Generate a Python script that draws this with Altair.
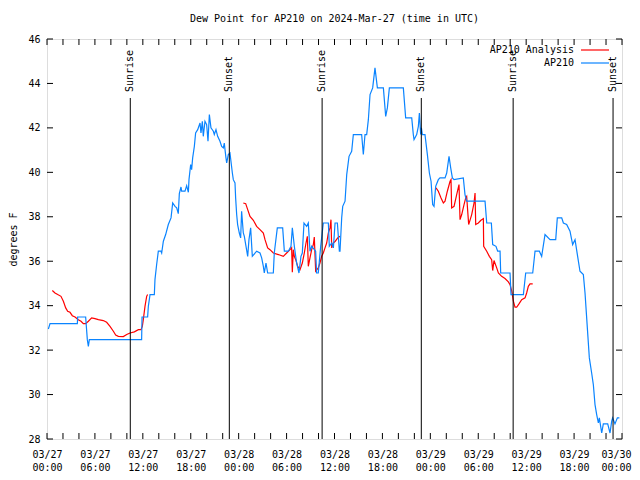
import altair as alt
import pandas as pd

FONT = "DejaVu Sans Mono"

# hours since 2024-03-27 00:00 UTC, dew point (F)
blue_h = [0.17, 0.38, 3.80, 3.84, 4.84, 5.05, 5.18, 5.30, 11.85, 11.90, 12.60, 12.69, 12.90, 13.44, 13.52, 13.73,
          13.94, 14.27, 14.36, 14.57, 14.86, 15.19, 15.53, 15.74, 16.03, 16.24, 16.44, 16.57, 16.78, 16.86, 17.28,
          17.49, 17.70, 17.78, 17.99, 18.11, 18.24, 18.45, 18.61, 18.87, 19.16, 19.28, 19.45, 19.57, 19.78, 19.99,
          20.16, 20.33, 20.53, 20.83, 20.95, 21.16, 21.37, 21.66, 21.87, 22.08, 22.20, 22.29, 22.41, 22.50, 22.70,
          22.91, 23.21, 23.33, 23.54, 23.62, 23.75, 23.87, 24.08, 24.25, 24.37, 24.58, 24.71, 24.92, 25.13, 25.29,
          25.50, 25.71, 26.25, 26.67, 26.88, 27.09, 27.21, 27.42, 27.63, 28.34, 28.46, 28.84, 29.51, 29.72, 30.22,
          30.55, 30.72, 30.97, 31.26, 31.55, 31.80, 31.97, 32.18, 32.51, 32.72, 32.93, 33.14, 33.64, 33.76, 33.97,
          34.27, 34.60, 35.23, 35.35, 35.65, 35.86, 36.07, 36.36, 36.61, 36.69, 36.90, 37.03, 37.32, 37.53, 37.82,
          38.15, 38.36, 39.40, 39.61, 39.82, 40.03, 40.24, 40.45, 40.78, 41.07, 41.37, 42.12, 42.41, 42.62, 42.87,
          44.62, 44.91, 45.67, 45.87, 45.96, 46.29, 46.50, 46.63, 46.79, 46.88, 47.00, 47.33, 47.63, 47.88, 48.09,
          48.29, 48.46, 48.67, 49.00, 49.21, 49.84, 50.05, 50.34, 50.55, 50.76, 50.97, 52.13, 52.34, 52.55, 54.85,
          55.06, 55.64, 55.81, 56.22, 56.43, 56.73, 56.81, 57.98, 58.10, 59.65, 59.94, 60.82, 61.11, 61.65, 61.94,
          62.36, 62.99, 63.70, 63.90, 64.45, 64.66, 65.07, 65.49, 65.82, 66.12, 66.41, 66.74, 67.16, 67.37, 67.66,
          67.91, 68.20, 68.41, 68.62, 68.83, 69.04, 69.16, 69.46, 69.66, 70.21, 70.50, 70.71, 70.83, 71.12, 71.42,
          71.67]
blue_v = [32.95, 33.19, 33.19, 33.49, 33.49, 32.47, 32.17, 32.47, 32.47, 33.49, 33.49, 33.97, 34.5, 34.5, 35.17, 35.85,
          36.45, 36.45, 36.37, 36.9, 37.2, 37.65, 37.95, 38.62, 38.47, 38.4, 38.14, 39.04, 39.34, 39.15, 39.15,
          39.4, 39.1, 39.67, 40.35, 40.12, 40.65, 41.17, 41.77, 41.92, 42.22, 41.77, 42.3, 41.62, 42.3, 42.15,
          41.4, 42.6, 42.0, 41.85, 41.7, 41.92, 41.62, 41.4, 41.17, 41.1, 41.32, 41.02, 40.65, 40.42, 40.8,
          40.87, 39.97, 39.67, 39.52, 38.85, 38.1, 37.65, 37.27, 37.05, 38.25, 37.27, 37.12, 36.67, 36.22, 36.97,
          37.5, 36.22, 36.45, 36.37, 36.15, 35.77, 35.47, 35.92, 35.47, 35.47, 36.37, 37.5, 37.5, 36.45, 36.45,
          36.67, 37.5, 36.67, 35.92, 35.47, 36.22, 36.37, 37.72, 37.57, 37.72, 36.45, 36.67, 36.45, 35.47, 35.47,
          36.67, 37.72, 37.72, 36.67, 36.82, 36.6, 37.72, 37.72, 36.45, 36.45, 37.95, 38.47, 38.7, 39.9, 40.72,
          40.95, 41.7, 41.7, 40.8, 41.7, 41.7, 42.37, 43.5, 43.8, 44.7, 43.8, 43.8, 42.52, 42.9, 43.8,
          43.8, 42.45, 42.45, 41.7, 41.47, 41.7, 42.07, 42.67, 41.7, 42.0, 41.7, 41.7, 40.8, 39.97, 39.6,
          38.55, 38.47, 39.37, 39.67, 39.75, 39.75, 39.97, 40.72, 40.2, 39.75, 39.67, 39.75, 39.0, 38.7, 38.7,
          37.72, 37.72, 36.75, 36.67, 36.45, 36.45, 35.47, 35.47, 34.5, 34.5, 35.47, 35.47, 36.45, 36.45, 36.22,
          37.2, 36.97, 36.97, 37.95, 37.95, 37.72, 37.65, 37.35, 36.75, 36.97, 36.3, 35.55, 35.4, 34.57, 33.0,
          31.65, 30.97, 30.45, 29.55, 29.1, 28.72, 28.95, 28.27, 28.68, 28.68, 28.27, 28.8, 28.95, 28.68, 28.95,
          28.95]

red_h = [0.67, 1.0, 1.34, 1.75, 2.05, 2.34, 2.59, 2.88, 3.17, 3.51, 3.92, 4.26, 4.55, 4.84, 5.18, 5.59, 6.01, 6.43,
         7.05, 7.47, 7.89, 8.31, 8.60, 8.93, 9.56, 9.98, 10.39, 10.94, 11.44, 11.77, 11.94, 12.06, 12.27, 12.48, 12.60,
         24.58, 24.88, 25.13, 25.42, 25.84, 26.25, 26.67, 27.09, 27.30, 27.63, 27.92, 28.34, 28.97, 29.59, 30.01,
         30.43, 30.63, 30.72, 30.84, 30.97, 31.14, 31.39, 31.68, 31.97, 32.22, 32.43, 32.60, 32.72, 32.93, 33.14,
         33.35, 33.47, 33.64, 33.97, 34.18, 34.39, 34.60, 34.81, 35.02, 35.23, 35.44, 35.56, 35.65, 35.85, 36.10,
         36.40, 36.69,
         48.71, 49.00, 49.34, 49.63, 49.84, 50.13, 50.47, 50.59, 50.67, 50.97, 51.30, 51.59, 51.72, 51.93, 52.22,
         52.43, 52.55, 52.80, 53.18, 53.47, 53.60, 53.68, 54.01, 54.30, 54.64, 54.68, 55.06, 55.39, 55.68, 55.81,
         55.97, 56.31, 56.52, 56.93, 57.35, 57.77, 57.98, 58.19, 58.40, 58.60, 58.81, 59.10, 59.44, 59.86, 60.06,
         60.27, 60.48, 60.82]
red_v = [34.68, 34.57, 34.5, 34.42, 34.2, 33.9, 33.75, 33.7, 33.55, 33.49, 33.37, 33.3, 33.19, 33.19, 33.3, 33.45,
         33.42, 33.37, 33.33, 33.25, 33.07, 32.85, 32.68, 32.62, 32.61, 32.7, 32.77, 32.82, 32.92, 32.92, 33.07,
         33.37, 33.97, 34.42, 34.5,
         38.62, 38.59, 38.32, 38.02, 37.84, 37.57, 37.42, 37.27, 36.97, 36.6, 36.52, 36.37, 36.3, 36.22, 36.37,
         36.52, 36.6, 35.5, 36.52, 36.22, 36.07, 35.77, 35.62, 35.92, 36.37, 36.82, 37.12, 35.77, 36.15, 36.52,
         36.75, 37.09, 35.55, 35.7, 35.92, 36.22, 36.37, 36.6, 36.82, 37.27, 37.5, 37.87, 36.6, 36.82, 36.9,
         37.05, 37.12,
         39.3, 39.15, 38.85, 38.62, 38.7, 39.15, 39.6, 39.67, 38.4, 38.47, 39.0, 39.45, 37.87, 38.1, 38.55,
         38.85, 38.92, 37.65, 38.1, 38.62, 39.07, 37.65, 37.72, 37.83, 37.92, 36.67, 36.45, 36.22, 36.07, 35.58,
         36.03, 35.7, 35.47, 35.32, 35.22, 35.07, 34.95, 34.65, 34.2, 33.93, 33.93, 34.08, 34.27, 34.35, 34.57,
         34.87, 34.98, 34.98]
red_seg = [0] * 35 + [1] * 47 + [2] * 48

sun_h = [10.43, 22.83, 34.45, 46.87, 58.37, 70.88]
sun_label = ["Sunrise", "Sunset", "Sunrise", "Sunset", "Sunrise", "Sunset"]

x_ticks = list(range(0, 73, 2))
x_label_vals = list(range(0, 73, 6))
y_ticks = list(range(28, 47, 2))

legend_names = ["AP210 Analysis", "AP210"]
legend_colors = ["#ff0000", "#0a84ff"]

blue_df = pd.DataFrame({"h": blue_h, "v": blue_v})
red_df = pd.DataFrame({"h": red_h, "v": red_v, "seg": red_seg})
sun_df = pd.DataFrame({"h": sun_h, "label": sun_label})
xt_df = pd.DataFrame({"h": x_ticks})
yt_df = pd.DataFrame({"v": y_ticks})
one_df = pd.DataFrame({"k": [0]})

xscale = alt.Scale(domain=[0, 72], nice=False, zero=False)
yscale = alt.Scale(domain=[28, 46], nice=False, zero=False)

label_expr = ("['03/' + (27 + floor(datum.value / 24)), "
              "((datum.value % 24) < 10 ? '0' : '') + (datum.value % 24) + ':00']")

X = alt.X("h:Q", scale=xscale,
          axis=alt.Axis(values=x_label_vals, labelExpr=label_expr, ticks=False, domain=False, grid=False,
                        labelPadding=10, labelLineHeight=13, labelFont=FONT, labelFontSize=10,
                        labelColor="black", title=None, labelFlush=False, labelOverlap=False,
                        labelAlign=alt.ConditionalAxisLabelAlign(
                            condition={"test": "datum.value == 72", "value": "right"}, value="center"),
                        labelOffset=alt.ConditionalAxisNumber(
                            condition={"test": "datum.value == 72", "value": 9}, value=0)))
Y = alt.Y("v:Q", scale=yscale,
          axis=alt.Axis(values=y_ticks, ticks=False, domain=False, grid=False, labelPadding=7,
                        labelFont=FONT, labelFontSize=10, labelColor="black",
                        title="degrees F", titleFont=FONT, titleFontSize=10, titleFontWeight="normal",
                        titleColor="black", titlePadding=9, labelFlush=False, labelOverlap=False))

red = alt.Chart(red_df).mark_line(color=legend_colors[0], strokeWidth=1.2, clip=True).encode(
    x=X, y=Y, detail="seg:N",
)

blue = alt.Chart(blue_df).mark_line(color=legend_colors[1], strokeWidth=1.2, clip=True).encode(
    x=X, y=Y,
)

sun_rules = alt.Chart(sun_df).mark_rule(color="black", strokeWidth=1).encode(
    x=X, y=alt.value(59), y2=alt.value(400),
)

sun_text = alt.Chart(sun_df).mark_text(angle=270, align="left", baseline="middle", font=FONT,
                                        fontSize=10, color="black").encode(
    x=X, y=alt.value(53), text="label:N",
)

xt_bottom = alt.Chart(xt_df).mark_rule(color="black").encode(x=X, y=alt.value(394), y2=alt.value(400))
xt_top = alt.Chart(xt_df).mark_rule(color="black").encode(x=X, y=alt.value(0), y2=alt.value(6))
yt_left = alt.Chart(yt_df).mark_rule(color="black").encode(y=Y, x=alt.value(0), x2=alt.value(6))
yt_right = alt.Chart(yt_df).mark_rule(color="black").encode(y=Y, x=alt.value(569), x2=alt.value(575))

leg_txt1 = alt.Chart(one_df).mark_text(align="right", baseline="middle", font=FONT, fontSize=10,
                                        color="black", text=legend_names[0]).encode(
    x=alt.value(527), y=alt.value(11))
leg_txt2 = alt.Chart(one_df).mark_text(align="right", baseline="middle", font=FONT, fontSize=10,
                                        color="black", text=legend_names[1]).encode(
    x=alt.value(527), y=alt.value(24))
leg_line1 = alt.Chart(one_df).mark_rule(color=legend_colors[0], strokeWidth=1.2).encode(
    x=alt.value(534), x2=alt.value(562), y=alt.value(11))
leg_line2 = alt.Chart(one_df).mark_rule(color=legend_colors[1], strokeWidth=1.2).encode(
    x=alt.value(534), x2=alt.value(562), y=alt.value(24))

chart = alt.layer(
    red, blue, sun_rules, sun_text, xt_bottom, xt_top, yt_left, yt_right,
    leg_txt1, leg_txt2, leg_line1, leg_line2,
).properties(
    width=575,
    height=400,
    title=alt.TitleParams("Dew Point for AP210 on 2024-Mar-27 (time in UTC)", font=FONT, fontSize=10,
                          fontWeight="normal", color="black", offset=10),
    autosize=alt.AutoSizeParams(type="none"),
    padding={"left": 39, "top": 31, "right": 10, "bottom": 33},
).configure_view(
    stroke="black", strokeWidth=1
).configure(background="white")

chart.save("out.html", embed_options={"renderer": "svg", "actions": False})
